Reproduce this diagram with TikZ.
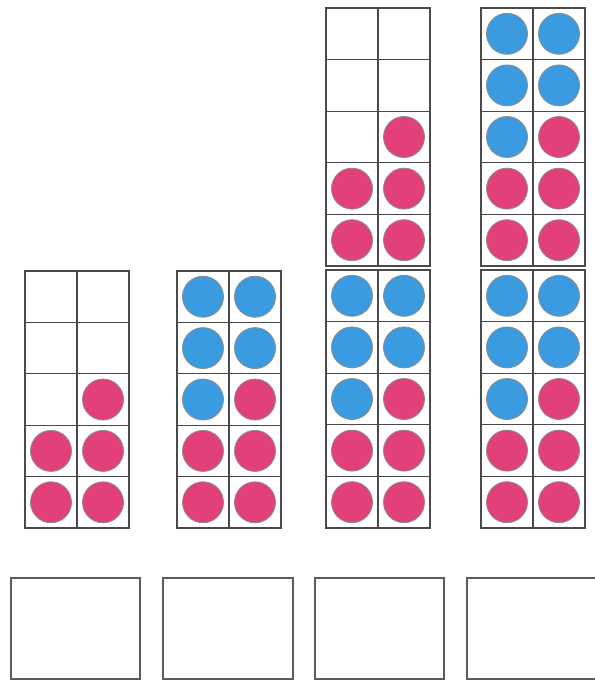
\documentclass[tikz,border=0pt]{standalone}
\definecolor{pk}{HTML}{E2407B}
\definecolor{bl}{HTML}{3A9BE0}
\definecolor{gridc}{HTML}{4A4A4A}
\tikzset{
  dotP/.style={fill=pk,draw=black!45,line width=0.8pt},
  dotB/.style={fill=bl,draw=black!45,line width=0.8pt},
  dotE/.style={},
  outerline/.style={draw=gridc,line width=2pt},
  innerline/.style={draw=gridc,line width=1.3pt},
  answerbox/.style={draw=gridc!90,line width=1.8pt}
}
% #1 left x, #2 top y, #3 bottom y, #4 pattern (10 entries, row-major)
\newcommand{\tframe}[4]{%
  \pgfmathsetmacro\fh{((#3)-(#2))/5}
  \foreach \k in {1,...,4}{
    \draw[innerline] (#1,{#2+\k*\fh}) -- (#1+104,{#2+\k*\fh});
  }
  \draw[innerline] (#1+52,#2) -- (#1+52,#3);
  \foreach \c [count=\i from 0] in {#4}{
    \pgfmathtruncatemacro\rr{int(\i/2)}
    \pgfmathtruncatemacro\cc{mod(\i,2)}
    \path[dot\c] ({#1+26+52*\cc},{#2+(\rr+0.5)*\fh}) circle (20.5pt);
  }
  \draw[outerline] (#1,#2) rectangle (#1+104,#3);
}
\begin{document}
\begin{tikzpicture}[x=1pt,y=-1pt]
\useasboundingbox (0,0) rectangle (595,681);
\fill[white] (0,0) rectangle (595,681);
% column 1
\tframe{25}{271}{528}{E,E,E,E,E,P,P,P,P,P}
% column 2
\tframe{177}{271}{528}{B,B,B,B,B,P,P,P,P,P}
% column 3
\tframe{326}{8}{266}{E,E,E,E,E,P,P,P,P,P}
\tframe{326}{270}{528}{B,B,B,B,B,P,P,P,P,P}
% column 4
\tframe{481}{8}{266}{B,B,B,B,B,P,P,P,P,P}
\tframe{481}{270}{528}{B,B,B,B,B,P,P,P,P,P}
% answer boxes
\draw[answerbox] (11,578) rectangle (140,679);
\draw[answerbox] (163,578) rectangle (293,679);
\draw[answerbox] (315,578) rectangle (444,679);
\draw[answerbox] (467,578) rectangle (598,679);
\end{tikzpicture}
\end{document}
